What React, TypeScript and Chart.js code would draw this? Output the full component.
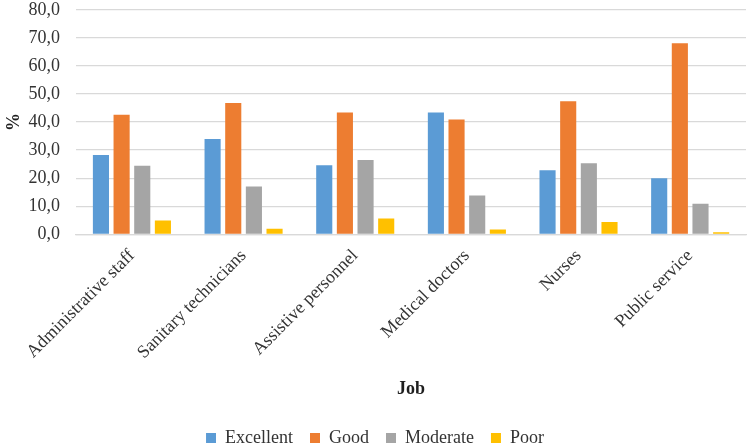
import React, { useEffect, useRef } from "react";
import { Chart, registerables } from "chart.js";

Chart.register(...registerables);

const categories = [
  "Administrative staff",
  "Sanitary technicians",
  "Assistive personnel",
  "Medical doctors",
  "Nurses",
  "Public service",
];
const excellent = [28.3, 34.0, 24.6, 43.4, 22.8, 20.0];
const good = [42.6, 46.8, 43.4, 40.9, 47.4, 68.1];
const moderate = [24.4, 17.0, 26.5, 13.8, 25.3, 10.9];
const poor = [4.9, 2.0, 5.6, 1.7, 4.4, 0.7];
const seriesNames = ["Excellent", "Good", "Moderate", "Poor"];
const colors = ["#5b9bd5", "#ed7d31", "#a5a5a5", "#ffc000"];

export default function App() {
  const ref = useRef<HTMLCanvasElement | null>(null);
  useEffect(() => {
    document.body.style.margin = "0";
    const font = "'Liberation Serif', 'Times New Roman', serif";
    const textColor = "#333333";
    const titleColor = "#1f1f1f";
    const chart = new Chart(ref.current as HTMLCanvasElement, {
      type: "bar",
      data: {
        labels: categories,
        datasets: [excellent, good, moderate, poor].map((d, i) => ({
          label: seriesNames[i],
          data: d,
          backgroundColor: colors[i],
          categoryPercentage: 0.74,
          barPercentage: 0.78,
        })),
      },
      options: {
        animation: false,
        responsive: false,
        maintainAspectRatio: false,
        layout: { padding: { top: 0, right: 3, left: 4, bottom: -10 } },
        plugins: {
          legend: {
            position: "bottom",
            labels: {
              boxWidth: 10,
              boxHeight: 10,
              padding: 17,
              color: textColor,
              font: { family: font, size: 18 },
            },
          },
          tooltip: { enabled: false },
        },
        scales: {
          x: {
            grid: { display: false },
            border: { display: true, color: "#d9d9d9", width: 1.3 },
            ticks: {
              autoSkip: false,
              minRotation: 45,
              maxRotation: 45,
              padding: 3,
              color: textColor,
              font: { family: font, size: 18 },
            },
            title: {
              display: true,
              text: "Job",
              color: titleColor,
              font: { family: font, size: 18, weight: "bold" },
              padding: { top: 12, bottom: 12 },
            },
            afterFit: (scale: any) => {
              scale.paddingLeft = 0;
              scale.paddingRight = 0;
            },
          },
          y: {
            min: 0,
            max: 80,
            grid: {
              color: "#d9d9d9",
              lineWidth: 1.3,
              drawTicks: true,
              tickLength: 16,
              tickColor: "rgba(0,0,0,0)",
            },
            border: { display: false },
            ticks: {
              autoSkip: false,
              stepSize: 10,
              padding: 0,
              color: textColor,
              font: { family: font, size: 18, lineHeight: 1.1 },
              callback: (v: any) => Number(v).toFixed(1).replace(".", ","),
            },
            title: {
              display: true,
              text: "%",
              color: titleColor,
              font: { family: font, size: 18, weight: "bold" },
              padding: { top: 0, bottom: 3 },
            },
          },
        },
      },
    });
    return () => chart.destroy();
  }, []);
  return (
    <div style={{ width: 749, height: 447, background: "#fff" }}>
      <canvas ref={ref} width={749} height={447} />
    </div>
  );
}
